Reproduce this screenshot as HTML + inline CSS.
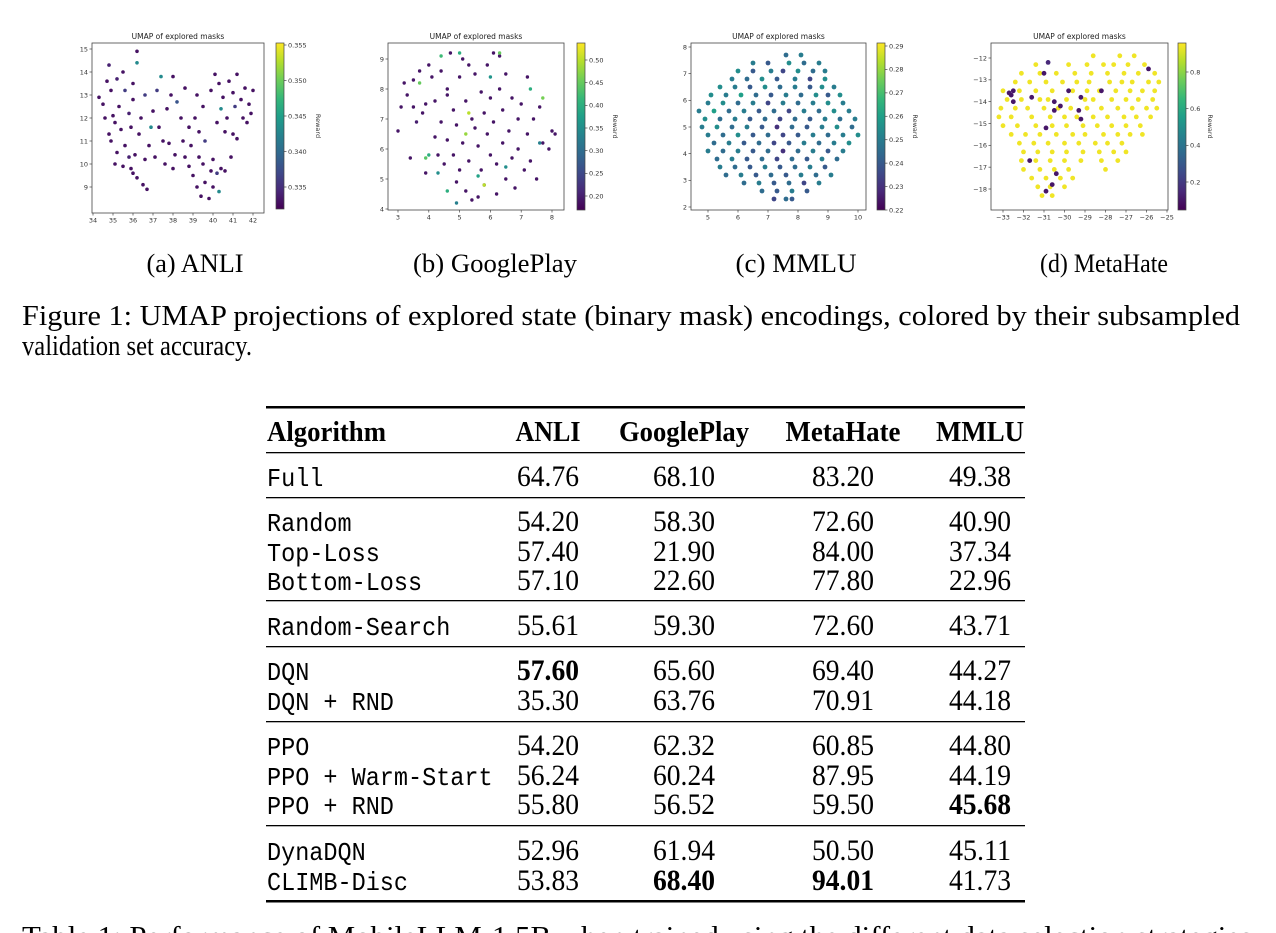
<!DOCTYPE html>
<html><head><meta charset="utf-8"><style>
html,body{margin:0;padding:0;background:#fff;}
svg{display:block;}
.tk{font-family:"DejaVu Sans","Liberation Sans",sans-serif;font-size:6.5px;fill:#333;}
.ttl{font-family:"DejaVu Sans","Liberation Sans",sans-serif;font-size:7.5px;fill:#222;}
.serif{font-family:"Liberation Serif",serif;fill:#000;}
.mono{font-family:"Liberation Mono",monospace;fill:#000;}
</style></head><body>
<svg id="page" width="1276" height="933" viewBox="0 0 1276 933" xmlns="http://www.w3.org/2000/svg">
<defs id="defs"></defs>
<g id="charts"></g>
<g class="serif" font-size="26">
<text x="195" y="272" text-anchor="middle" textLength="97" lengthAdjust="spacingAndGlyphs">(a) ANLI</text>
<text x="495" y="272" text-anchor="middle" textLength="164" lengthAdjust="spacingAndGlyphs">(b) GooglePlay</text>
<text x="796" y="272" text-anchor="middle" textLength="121" lengthAdjust="spacingAndGlyphs">(c) MMLU</text>
<text x="1104" y="272" text-anchor="middle" textLength="128" lengthAdjust="spacingAndGlyphs">(d) MetaHate</text>
</g>
<g class="serif" font-size="29">
<text x="22" y="325" textLength="1218" lengthAdjust="spacingAndGlyphs">Figure 1: UMAP projections of explored state (binary mask) encodings, colored by their subsampled</text>
<text x="22" y="355" textLength="230" lengthAdjust="spacingAndGlyphs">validation set accuracy.</text>
</g>
<g>
<rect x="266" y="406" width="759" height="2.5" fill="#000"/>
<rect x="266" y="452" width="759" height="1.3" fill="#000"/>
<rect x="266" y="497" width="759" height="1.3" fill="#000"/>
<rect x="266" y="600" width="759" height="1.3" fill="#000"/>
<rect x="266" y="646" width="759" height="1.3" fill="#000"/>
<rect x="266" y="721" width="759" height="1.3" fill="#000"/>
<rect x="266" y="825" width="759" height="1.3" fill="#000"/>
<rect x="266" y="900" width="759" height="2.5" fill="#000"/>
<g class="serif" font-size="29" font-weight="bold">
<text x="267" y="441" textLength="119" lengthAdjust="spacingAndGlyphs">Algorithm</text>
<text x="548" y="441" text-anchor="middle" textLength="65" lengthAdjust="spacingAndGlyphs">ANLI</text>
<text x="684" y="441" text-anchor="middle" textLength="130" lengthAdjust="spacingAndGlyphs">GooglePlay</text>
<text x="843" y="441" text-anchor="middle" textLength="115" lengthAdjust="spacingAndGlyphs">MetaHate</text>
<text x="980" y="441" text-anchor="middle" textLength="88" lengthAdjust="spacingAndGlyphs">MMLU</text>
</g>
<g id="tbody"></g>
</g>
<g class="serif" font-size="29">
<text x="22" y="946" textLength="1230" lengthAdjust="spacingAndGlyphs">Table 1: Performance of MobileLLM-1.5B when trained using the different data selection strategies</text>
</g>
</svg>
<script>
// ---------- table data ----------
const rowNames=["Full","Random","Top-Loss","Bottom-Loss","Random-Search","DQN","DQN + RND","PPO","PPO + Warm-Start","PPO + RND","DynaDQN","CLIMB-Disc"];
const rowY=[476,521,551,580,625,670,700,745,775,804,850,880];
const anliCol=["64.76","54.20","57.40","57.10","55.61","57.60","35.30","54.20","56.24","55.80","52.96","53.83"];
const gpCol=["68.10","58.30","21.90","22.60","59.30","65.60","63.76","62.32","60.24","56.52","61.94","68.40"];
const mhCol=["83.20","72.60","84.00","77.80","72.60","69.40","70.91","60.85","87.95","59.50","50.50","94.01"];
const mmluCol=["49.38","40.90","37.34","22.96","43.71","44.27","44.18","44.80","44.19","45.68","45.11","41.73"];
const boldCells=["5-0","11-1","11-2","9-3"];

// ---------- chart data ----------
const anliXTicks=[34,35,36,37,38,39,40,41,42];
const anliYTicks=[9,10,11,12,13,14,15];
const anliCbTicks=[0.335,0.340,0.345,0.350,0.355];
const anliPoints=[[34.3,12.9,.333],[34.5,12.6,.333],[34.7,13.6,.333],[34.8,14.3,.334],[34.9,13.2,.333],[35.0,12.1,.333],[35.2,13.7,.334],[35.3,12.5,.333],[35.5,14.0,.333],[35.6,13.2,.336],[35.1,11.8,.333],[34.8,11.3,.333],[34.9,11.0,.333],[35.4,11.5,.333],[35.8,12.2,.334],[36.0,13.5,.333],[36.2,14.9,.333],[36.2,14.4,.343],[36.0,12.8,.333],[35.9,11.6,.333],[36.4,12.0,.333],[36.6,13.0,.336],[36.3,11.3,.333],[35.2,10.5,.333],[35.1,10.0,.333],[35.5,9.9,.333],[35.8,10.3,.334],[36.0,9.6,.333],[36.2,9.4,.333],[36.5,9.1,.333],[36.7,8.9,.333],[36.1,10.4,.333],[35.6,10.8,.333],[36.6,10.2,.333],[36.8,10.8,.333],[35.9,9.8,.333],[34.6,12.0,.333],
[37.0,12.3,.333],[37.2,13.2,.336],[37.4,13.8,.343],[37.3,11.6,.333],[37.5,11.0,.333],[37.7,12.4,.333],[37.9,13.0,.333],[38.0,13.8,.333],[38.2,12.7,.338],[38.4,12.0,.333],[38.6,13.3,.333],[38.8,11.6,.333],[38.5,11.0,.333],[37.8,10.9,.333],[37.6,10.0,.333],[38.1,10.4,.333],[38.6,10.3,.333],[38.9,10.8,.333],[39.1,12.0,.333],[39.3,11.4,.333],[39.5,12.5,.333],[39.2,13.0,.333],[39.6,11.0,.336],[36.9,11.6,.343],[37.1,10.3,.333],[38.0,9.8,.333],
[38.8,9.9,.333],[39.0,9.5,.333],[39.2,9.0,.333],[39.4,8.6,.333],[39.6,9.2,.333],[39.8,8.5,.333],[40.0,9.0,.333],[40.2,9.6,.336],[39.5,10.0,.333],[40.0,10.2,.333],[40.4,9.8,.333],[40.6,9.7,.333],[39.3,10.3,.333],[39.9,9.7,.333],[40.3,8.8,.343],
[39.9,13.2,.333],[40.1,13.9,.333],[40.3,13.5,.333],[40.5,12.9,.333],[40.4,12.4,.343],[40.8,13.6,.333],[41.0,13.1,.333],[41.2,13.9,.333],[41.4,12.8,.333],[41.6,13.3,.333],[41.8,12.6,.333],[42.0,13.2,.333],[41.9,12.2,.333],[41.5,12.0,.333],[41.1,12.5,.336],[40.7,12.0,.333],[41.0,11.3,.333],[41.2,11.1,.333],[40.9,10.3,.333],[40.2,11.8,.333],[40.6,11.4,.333],[41.7,11.8,.333]];

const gpXTicks=[3,4,5,6,7,8];
const gpYTicks=[4,5,6,7,8,9];
const gpCbTicks=[0.20,0.25,0.30,0.35,0.40,0.45,0.50];
const gpPoints=[[3.0,6.6,.19],[3.1,7.4,.19],[3.2,8.2,.19],[3.3,7.8,.19],[3.4,5.7,.19],[3.5,7.4,.19],[3.6,6.9,.2],[3.7,8.6,.19],[3.8,7.2,.19],[3.9,7.5,.19],[3.9,5.2,.19],[4.0,8.8,.19],[4.1,8.4,.19],[4.2,7.6,.19],[4.2,6.4,.19],[4.3,5.8,.19],[4.4,8.6,.19],[4.4,6.9,.19],[4.5,5.5,.19],[4.6,7.8,.19],[4.6,6.3,.19],[4.7,9.2,.19],[4.8,7.3,.19],[4.8,5.8,.19],[4.9,6.8,.19],[4.9,4.9,.19],[5.0,8.4,.19],[5.0,5.3,.19],[5.1,9.0,.19],[5.1,6.2,.19],[5.2,7.6,.19],[5.2,4.6,.19],[5.3,8.8,.19],[5.3,5.6,.19],[5.4,7.0,.19],[5.4,4.3,.19],[5.5,8.5,.19],[5.5,6.7,.19],[5.6,6.1,.19],[5.7,7.9,.19],[5.7,5.3,.19],[5.8,7.2,.19],[5.8,4.8,.19],[5.9,8.8,.19],[5.9,6.5,.19],[6.0,5.8,.19],[6.0,7.7,.19],[6.1,9.2,.19],[6.1,6.9,.19],[6.2,4.5,.19],[6.2,5.5,.19],[6.3,8.0,.19],[6.4,6.2,.19],[6.4,7.3,.19],[6.5,5.0,.19],[6.5,8.5,.19],[6.6,6.6,.19],[6.7,7.7,.19],[6.7,5.7,.19],[6.8,4.7,.19],[6.9,7.0,.19],[6.9,6.0,.19],[7.0,7.5,.19],[7.1,5.3,.19],[7.2,8.4,.19],[7.2,6.5,.19],[7.3,5.6,.19],[7.4,7.0,.19],[7.5,5.0,.19],[7.6,7.4,.19],[7.7,6.2,.19],[7.9,6.0,.19],[8.0,6.6,.19],[8.1,6.5,.19],[5.6,4.4,.19],[4.6,8.0,.19],[3.5,8.3,.19],[6.3,9.1,.19],
[3.7,8.2,.45],[4.0,5.8,.40],[4.3,5.2,.35],[4.4,9.1,.42],[5.0,9.2,.40],[5.2,6.5,.48],[5.3,7.2,.50],[4.9,4.2,.33],[5.6,5.1,.38],[6.3,9.2,.45],[6.5,5.4,.35],[7.3,8.0,.40],[7.7,7.7,.46],[7.6,6.2,.33],[3.9,5.7,.44],[5.8,4.8,.50],[6.0,8.4,.36],[4.6,4.6,.40]];

const mmluXTicks=[5,6,7,8,9,10];
const mmluYTicks=[2,3,4,5,6,7,8];
const mmluCbTicks=[0.22,0.23,0.24,0.25,0.26,0.27,0.28,0.29];
const mmluRowY=[7.7,7.4,7.1,6.8,6.5,6.2,5.9,5.6,5.3,5.0,4.7,4.4,4.1,3.8,3.5,3.2,2.9,2.6,2.3];
const mmluRowPts=[
[[7.6,.245],[8.1,.25]],
[[6.5,.25],[7.0,.24],[7.7,.255],[8.2,.245],[8.7,.25]],
[[6.0,.255],[6.5,.24],[7.1,.25],[7.5,.235],[8.0,.255],[8.5,.245],[8.9,.25]],
[[5.8,.25],[6.3,.245],[6.8,.255],[7.3,.24],[7.9,.25],[8.4,.235],[8.9,.255]],
[[5.4,.255],[5.9,.25],[6.4,.24],[6.9,.255],[7.4,.245],[7.9,.25],[8.4,.24],[8.8,.255],[9.2,.25]],
[[5.1,.255],[5.6,.25],[6.1,.26],[6.6,.245],[7.1,.24],[7.6,.25],[8.1,.245],[8.6,.255],[9.0,.24],[9.4,.255]],
[[5.0,.25],[5.5,.255],[6.0,.245],[6.5,.25],[7.0,.235],[7.5,.25],[8.0,.245],[8.5,.25],[9.0,.255],[9.5,.25]],
[[4.7,.25],[5.2,.26],[5.7,.245],[6.2,.25],[6.7,.24],[7.2,.245],[7.7,.235],[8.2,.25],[8.7,.245],[9.2,.255],[9.7,.25]],
[[4.9,.255],[5.4,.245],[5.9,.25],[6.4,.24],[6.9,.245],[7.4,.235],[7.9,.245],[8.4,.24],[8.9,.25],[9.4,.245],[9.9,.25]],
[[4.8,.25],[5.3,.255],[5.8,.245],[6.3,.25],[6.8,.24],[7.3,.23],[7.8,.245],[8.3,.24],[8.8,.25],[9.3,.255],[9.8,.245]],
[[5.0,.25],[5.5,.245],[6.0,.255],[6.5,.24],[7.0,.245],[7.5,.235],[8.0,.24],[8.5,.25],[9.0,.245],[9.5,.25],[10.0,.255]],
[[5.2,.245],[5.7,.25],[6.2,.24],[6.7,.245],[7.2,.235],[7.7,.24],[8.2,.25],[8.7,.245],[9.2,.25],[9.7,.255]],
[[5.0,.25],[5.5,.245],[6.0,.25],[6.5,.24],[7.0,.245],[7.5,.23],[8.0,.245],[8.5,.25],[9.0,.24],[9.5,.25]],
[[5.3,.245],[5.8,.25],[6.3,.24],[6.8,.245],[7.3,.235],[7.8,.245],[8.3,.24],[8.8,.25],[9.3,.245]],
[[5.4,.25],[5.9,.245],[6.4,.24],[6.9,.25],[7.4,.24],[7.9,.245],[8.4,.25],[8.9,.24]],
[[5.6,.245],[6.1,.25],[6.6,.24],[7.1,.245],[7.6,.24],[8.1,.25],[8.6,.245],[9.1,.25]],
[[6.2,.245],[6.7,.25],[7.2,.24],[7.7,.245],[8.2,.235],[8.7,.25]],
[[6.8,.245],[7.3,.24],[7.8,.25],[8.3,.24]],
[[7.2,.235],[7.6,.245],[7.8,.24]]];

const mhXTicks=[-33,-32,-31,-30,-29,-28,-27,-26,-25];
const mhYTicks=[-18,-17,-16,-15,-14,-13,-12];
const mhCbTicks=[0.2,0.4,0.6,0.8];
const mhRowY=[-11.9,-12.3,-12.7,-13.1,-13.5,-13.9,-14.3,-14.7,-15.1,-15.5,-15.9,-16.3,-16.7,-17.1,-17.5,-17.9,-18.3];
const mhRowX=[
[-28.6,-27.3,-26.6],
[-31.4,-29.8,-28.9,-28.1,-27.6,-26.9,-26.1],
[-32.1,-31.2,-30.4,-29.5,-28.7,-27.9,-27.1,-26.4,-25.6],
[-32.4,-31.7,-30.9,-30.1,-29.4,-28.8,-27.8,-27.2,-26.7,-25.9,-25.4],
[-33.0,-32.2,-31.4,-30.6,-29.6,-28.9,-28.3,-27.5,-26.8,-26.2,-25.6],
[-32.8,-32.1,-31.2,-30.8,-29.9,-29.0,-28.6,-27.7,-27.0,-26.4,-25.7],
[-33.1,-32.4,-31.8,-31.0,-30.3,-29.7,-28.9,-28.2,-27.4,-26.7,-26.0,-25.5],
[-33.2,-32.6,-31.6,-30.7,-30.0,-29.4,-28.6,-27.9,-27.1,-26.5,-25.8],
[-33.0,-32.3,-31.4,-30.6,-29.9,-29.1,-28.4,-27.7,-27.0,-26.3],
[-32.6,-31.9,-31.2,-30.4,-29.6,-29.0,-28.1,-27.4,-26.8,-26.2],
[-32.2,-31.5,-30.8,-30.0,-29.3,-28.5,-27.9,-27.2],
[-32.0,-31.3,-30.6,-29.9,-29.1,-28.3,-27.6,-27.0],
[-32.1,-31.4,-30.7,-30.0,-29.2,-28.2,-27.4],
[-32.0,-31.2,-30.5,-29.8,-28.0],
[-31.6,-30.9,-30.2,-29.6],
[-31.3,-30.7,-30.0],
[-31.1,-30.6]];
const mhRowValue=0.94;
const mhLowPoints=[[-32.7,-13.6,.1],[-32.6,-13.7,.1],[-32.5,-14.0,.1],[-32.5,-13.5,.1],[-31.6,-13.8,.1],[-31.0,-12.7,.1],[-30.8,-12.2,.15],[-30.5,-14.0,.1],[-30.5,-14.4,.1],[-30.2,-14.2,.1],[-29.8,-13.5,.1],[-29.2,-13.8,.1],[-29.3,-14.4,.1],[-28.2,-13.5,.1],[-25.9,-12.5,.1],[-30.9,-15.2,.1],[-31.7,-16.7,.1],[-30.4,-17.3,.1],[-30.6,-17.8,.1],[-30.9,-18.1,.1],[-29.2,-14.8,.1]];

// ---------- helpers ----------
const NS="http://www.w3.org/2000/svg";
function mk(tag,attrs,parent){const e=document.createElementNS(NS,tag);for(const k in attrs)e.setAttribute(k,attrs[k]);parent.appendChild(e);return e;}
const VIR=[[68,1,84],[72,40,120],[62,74,137],[49,104,142],[38,130,142],[31,158,137],[53,183,121],[109,205,89],[180,222,44],[253,231,37]];
function viridis(t){t=Math.max(0,Math.min(1,t));const p=t*(VIR.length-1);const i=Math.min(VIR.length-2,Math.floor(p));const f=p-i;const a=VIR[i],b=VIR[i+1];return `rgb(${Math.round(a[0]+(b[0]-a[0])*f)},${Math.round(a[1]+(b[1]-a[1])*f)},${Math.round(a[2]+(b[2]-a[2])*f)})`;}
function lin(d0,d1,r0,r1){return v=>r0+(v-d0)/(d1-d0)*(r1-r0);}
function fmt(v){return String(v).replace('-','\u2212');}

const charts=document.getElementById('charts');
const defs=document.getElementById('defs');

function drawChart(cfg){
  const g=mk('g',{},charts);
  
  
  const sx=lin(cfg.xd[0],cfg.xd[1],cfg.xr[0],cfg.xr[1]);
  const sy=lin(cfg.yd[0],cfg.yd[1],cfg.yr[0],cfg.yr[1]);
  const cy=lin(cfg.cd[0],cfg.cd[1],cfg.cr[0],cfg.cr[1]);
  const B=cfg.box;
  const t=mk('text',{x:(B[0]+B[2])/2,y:B[1]-4,'text-anchor':'middle',class:'ttl'},g);
  t.textContent='UMAP of explored masks';
  
  
  const pg=mk('g',{},g);
  
  
  const vmin=cfg.cmin, vmax=cfg.cmax;
  cfg.points.forEach(p=>{
    const c=mk('circle',{cx:sx(p[0]).toFixed(1),cy:sy(p[1]).toFixed(1),r:cfg.r,fill:viridis((p[2]-vmin)/(vmax-vmin))},pg);
    
    
  });
  const fr=mk('rect',{x:B[0],y:B[1],width:B[2]-B[0],height:B[3]-B[1],fill:'none',stroke:'#444','stroke-width':0.8},g);
  
  
  cfg.xt.forEach(v=>{const x=sx(v);mk('line',{x1:x,x2:x,y1:B[3],y2:B[3]+2.5,stroke:'#444','stroke-width':0.7},g);
    const l=mk('text',{x:x,y:B[3]+9.5,'text-anchor':'middle',class:'tk'},g);l.textContent=fmt(v);
    
    });
  cfg.yt.forEach(v=>{const y=sy(v);mk('line',{x1:B[0]-2.5,x2:B[0],y1:y,y2:y,stroke:'#444','stroke-width':0.7},g);
    const l=mk('text',{x:B[0]-4,y:y+2.3,'text-anchor':'end',class:'tk'},g);l.textContent=fmt(v);
    
    });
  const C=cfg.cbar;
  const gid='grad-'+cfg.name;
  const lg=mk('linearGradient',{id:gid,x1:0,y1:1,x2:0,y2:0},defs);
  for(let i=0;i<=9;i++)mk('stop',{offset:(i/9),'stop-color':viridis(i/9)},lg);
  const cb=mk('rect',{x:C[0],y:C[1],width:C[2]-C[0],height:C[3]-C[1],fill:`url(#${gid})`,stroke:'#444','stroke-width':0.7},g);
  
  
  cfg.ct.forEach(v=>{const y=cy(v);mk('line',{x1:C[2],x2:C[2]+2.5,y1:y,y2:y,stroke:'#444','stroke-width':0.7},g);
    const l=mk('text',{x:C[2]+4,y:y+2.3,class:'tk'},g);l.textContent=cfg.cf(v);
    
    });
  const rl=mk('text',{x:C[2]+cfg.rx,y:(C[1]+C[3])/2,'text-anchor':'middle',class:'tk',transform:`rotate(90 ${C[2]+cfg.rx} ${(C[1]+C[3])/2})`},g);
  rl.textContent='Reward';
  
  
}

const gpAll=gpPoints;
const mmluAll=[];mmluRowY.forEach((y,i)=>mmluRowPts[i].forEach(p=>mmluAll.push([p[0],y,p[1]])));
const mhAll=[];mhRowY.forEach((y,i)=>mhRowX[i].forEach(x=>mhAll.push([x,y,mhRowValue])));mhLowPoints.forEach(p=>mhAll.push(p));

drawChart({name:'anli-umap',box:[92,43,264,213],xd:[34,42],xr:[93,253],yd:[15,9],yr:[49,187],points:anliPoints,r:1.8,xt:anliXTicks,yt:anliYTicks,
  cbar:[276,43,284,209],cd:[0.355,0.335],cr:[45,187],cmin:0.3319,cmax:0.3553,ct:anliCbTicks,cf:v=>v.toFixed(3),rx:32});
drawChart({name:'googleplay-umap',box:[388,43,564,210],xd:[3,8],xr:[398,552],yd:[9,4],yr:[59,209],points:gpAll,r:1.7,xt:gpXTicks,yt:gpYTicks,
  cbar:[577,43,585,210],cd:[0.50,0.20],cr:[60,196],cmin:0.169,cmax:0.5375,ct:gpCbTicks,cf:v=>v.toFixed(2),rx:28});
drawChart({name:'mmlu-umap',box:[691,43,866,210],xd:[5,10],xr:[708,858],yd:[8,2],yr:[47,207],points:mmluAll,r:2.4,xt:mmluXTicks,yt:mmluYTicks,
  cbar:[877,43,885,210],cd:[0.29,0.22],cr:[46,210],cmin:0.22,cmax:0.2915,ct:mmluCbTicks,cf:v=>v.toFixed(2),rx:28});
drawChart({name:'metahate-umap',box:[991,43,1168,210],xd:[-33,-25],xr:[1003,1167],yd:[-12,-18],yr:[58,189],points:mhAll,r:2.4,xt:mhXTicks,yt:mhYTicks,
  cbar:[1178,43,1186,210],cd:[0.8,0.2],cr:[72,182],cmin:0.045,cmax:0.958,ct:mhCbTicks,cf:v=>v.toFixed(1),rx:22});

// ---------- table body ----------
const tb=document.getElementById('tbody');
const colX=[548,684,843,980];
const cols=[anliCol,gpCol,mhCol,mmluCol];
rowNames.forEach((n,i)=>{
  const y=rowY[i]+10;
  const t=mk('text',{x:267,y:y,class:'mono','font-size':26,textLength:(n.length*14.1).toFixed(1),lengthAdjust:'spacingAndGlyphs'},tb);
  t.textContent=n;
  
  
  cols.forEach((col,j)=>{
    const bold=boldCells.includes(i+'-'+j);
    const c=mk('text',{x:colX[j],y:y,'text-anchor':'middle',class:'serif','font-size':30,'font-weight':bold?'bold':'normal',textLength:62,lengthAdjust:'spacingAndGlyphs'},tb);
    c.textContent=col[i];
    
    
  });
});
</script>
</body></html>
